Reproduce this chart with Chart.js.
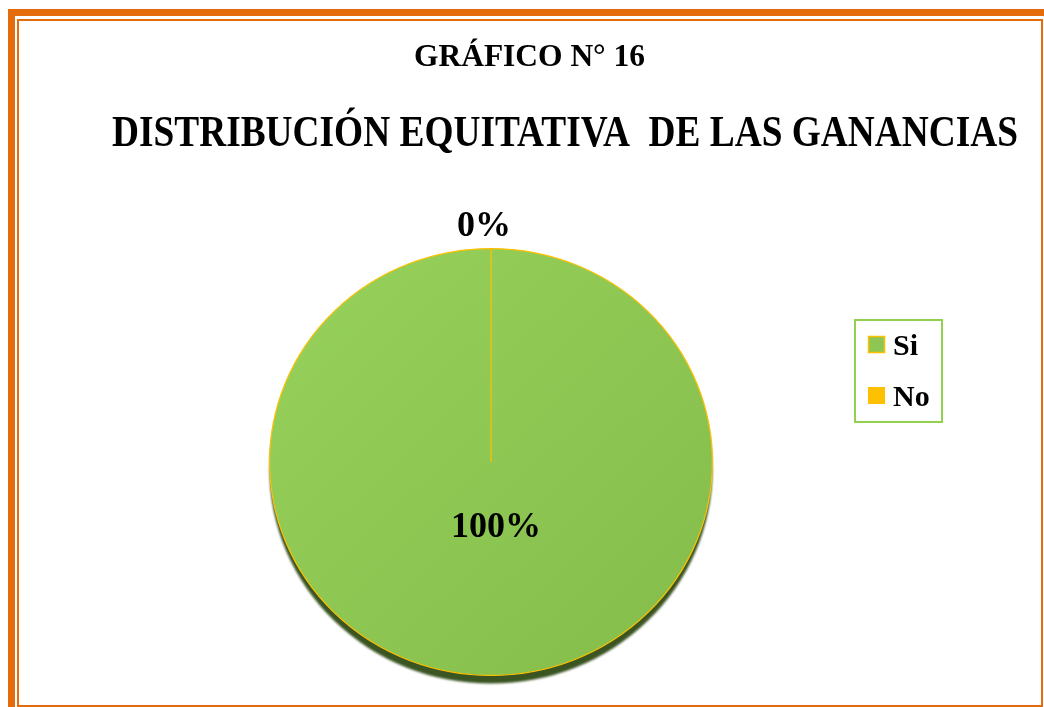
<!DOCTYPE html>
<html>
<head>
<meta charset="utf-8">
<script src="https://cdn.jsdelivr.net/npm/chart.js@4/dist/chart.umd.min.js"></script>
<style>
    html, body { margin: 0; padding: 0; background: #ffffff; }
    #wrap { position: relative; width: 1044px; height: 707px; }
</style>
</head>
<body>
<div id="wrap"><canvas id="pieChart" width="1044" height="707"></canvas></div>
<script>
const categories = ['Si', 'No'];
const values = [100, 0];
const percentLabels = ['100%', '0%'];
const sliceColors = ['#8DC653', '#FFC000'];
const chartTitle = 'GRÁFICO N° 16';
const chartSubtitle = 'DISTRIBUCIÓN EQUITATIVA  DE LAS GANANCIAS';

const ORANGE = '#E46C0A';
const SERIF = '"Liberation Serif", "Times New Roman", serif';
const TILT = 0.964; // the pie is seen slightly from above

// draw text squeezed to a given width (the original is stretched vertically)
function fitText(ctx, text, x, y, size, width) {
    ctx.save();
    ctx.font = 'bold ' + size + 'px ' + SERIF;
    const w = ctx.measureText(text).width;
    ctx.translate(x, y);
    ctx.scale(width / w, 1);
    ctx.textAlign = 'left';
    ctx.textBaseline = 'alphabetic';
    ctx.fillStyle = '#000000';
    ctx.fillText(text, 0, 0);
    ctx.restore();
}

const framePlugin = {
    id: 'frame',
    beforeDraw(chart) {
        const ctx = chart.ctx;
        ctx.save();
        ctx.fillStyle = '#ffffff';
        ctx.fillRect(0, 0, chart.width, chart.height);
        ctx.strokeStyle = ORANGE;
        ctx.lineWidth = 7;
        ctx.strokeRect(11.5, 12.5, chart.width + 20, chart.height + 20);
        ctx.lineWidth = 2;
        ctx.strokeRect(18, 20, chart.width - 20, chart.height - 21);
        ctx.restore();
    }
};

// squash the pie a little and put the dark rim under it
const tiltPlugin = {
    id: 'tilt',
    beforeDatasetsDraw(chart) {
        const ctx = chart.ctx;
        const arc = chart.getDatasetMeta(0).data[0];
        ctx.save();
        ctx.translate(arc.x, arc.y);
        ctx.scale(1, TILT);
        ctx.translate(-arc.x, -arc.y);
        ctx.save();
        ctx.filter = 'blur(0.8px)';
        ctx.fillStyle = '#3b5522';
        ctx.beginPath();
        ctx.arc(arc.x, arc.y + 8.5, arc.outerRadius, 0, Math.PI * 2);
        ctx.fill();
        ctx.restore();
    },
    afterDatasetsDraw(chart) {
        chart.ctx.restore();
    }
};

const textPlugin = {
    id: 'texts',
    afterDraw(chart) {
        const ctx = chart.ctx;
        fitText(ctx, chartTitle, 414, 66, 32, 231);
        fitText(ctx, chartSubtitle, 112, 146, 45, 906);

        // percentage labels
        const arc = chart.getDatasetMeta(0).data[0];
        const top = arc.y - arc.outerRadius * TILT;
        ctx.save();
        ctx.font = 'bold 36px ' + SERIF;
        ctx.fillStyle = '#000000';
        ctx.textAlign = 'center';
        ctx.textBaseline = 'alphabetic';
        ctx.fillText(percentLabels[0], arc.x + 5, arc.y + 75);
        ctx.fillText(percentLabels[1], arc.x - 7, top - 13);
        ctx.restore();

        // legend
        ctx.save();
        ctx.strokeStyle = '#92D050';
        ctx.lineWidth = 2;
        ctx.strokeRect(855, 320, 87, 102);
        categories.forEach((c, i) => {
            const y = 336 + i * 51;
            ctx.fillStyle = sliceColors[i];
            ctx.fillRect(868, y, 17, 17);
            if (i === 0) {
                ctx.strokeStyle = '#FFC000';
                ctx.lineWidth = 1.5;
                ctx.strokeRect(868.5, y + 0.5, 16, 16);
            }
            ctx.fillStyle = '#000000';
            ctx.font = 'bold 30px ' + SERIF;
            ctx.textAlign = 'left';
            ctx.textBaseline = 'alphabetic';
            ctx.fillText(c, 893, y + 19);
        });
        ctx.restore();
    }
};

const ctx = document.getElementById('pieChart').getContext('2d');

new Chart(ctx, {
    type: 'pie',
    data: {
        labels: categories,
        datasets: [{
            data: values,
            backgroundColor: function(context) {
                const area = context.chart.chartArea;
                if (!area || context.dataIndex !== 0) {
                    return sliceColors[context.dataIndex];
                }
                const g = context.chart.ctx.createLinearGradient(area.left, area.top, area.right, area.bottom);
                g.addColorStop(0, '#97D25C');
                g.addColorStop(1, '#84BC49');
                return g;
            },
            borderColor: '#FFC000',
            borderWidth: 1.2
        }]
    },
    options: {
        responsive: false,
        animation: false,
        layout: {
            padding: { top: 239, bottom: 22, left: 269, right: 331 }
        },
        plugins: {
            legend: { display: false },
            tooltip: { enabled: false }
        }
    },
    plugins: [framePlugin, tiltPlugin, textPlugin]
});
</script>
</body>
</html>
